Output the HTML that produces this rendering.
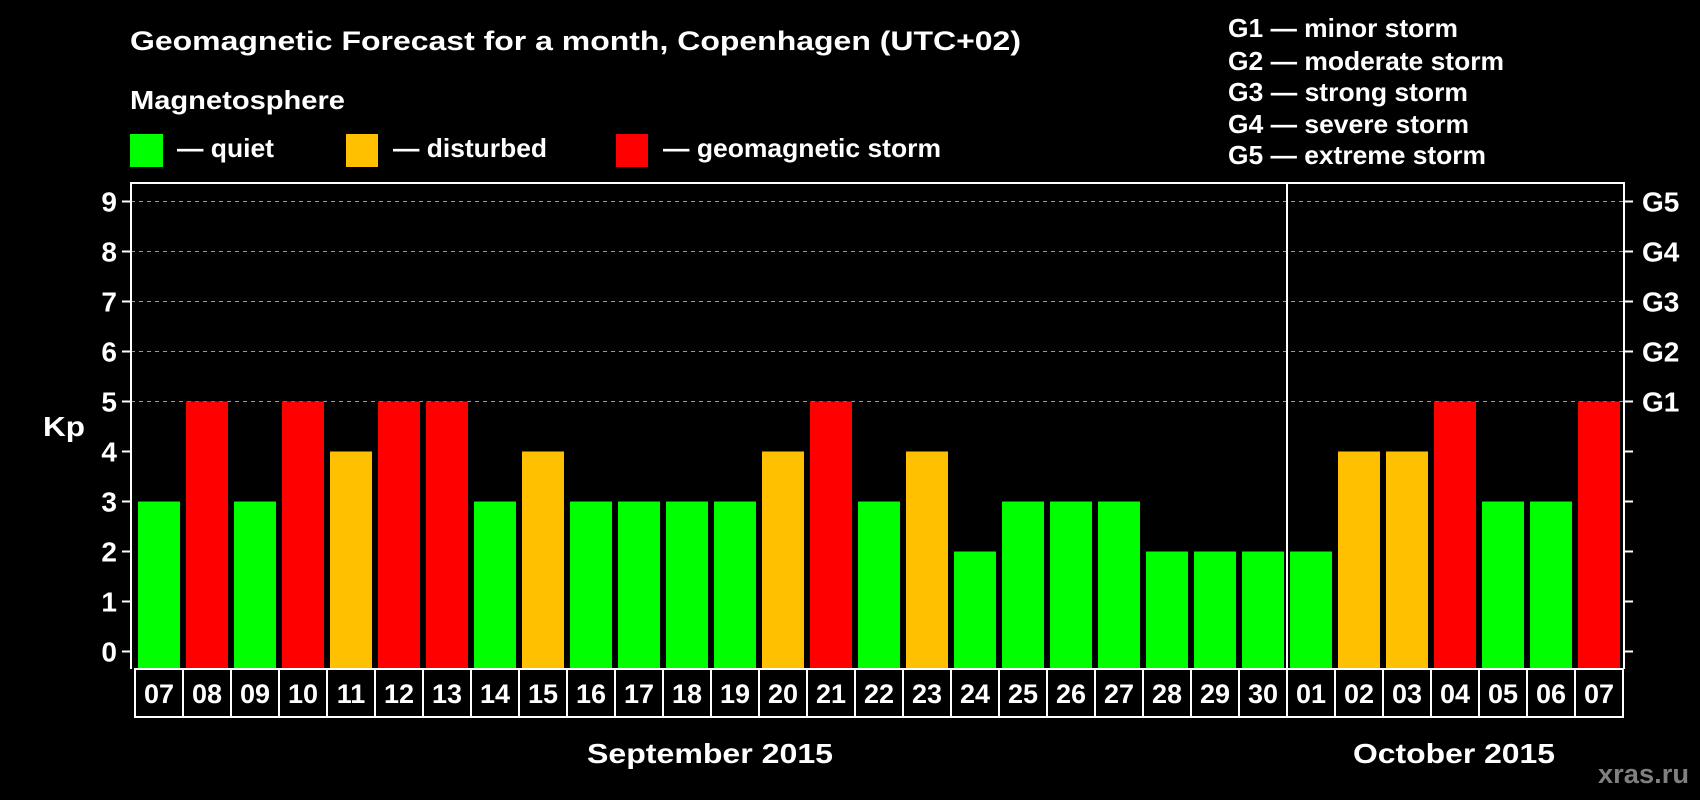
<!DOCTYPE html>
<html><head><meta charset="utf-8"><style>
html,body{margin:0;padding:0;background:#000;}
svg{display:block;font-family:"Liberation Sans",Arial,sans-serif;font-weight:bold;}
</style></head><body>
<svg id="chart" width="1700" height="800" viewBox="0 0 1700 800" xmlns="http://www.w3.org/2000/svg">
<rect x="0" y="0" width="1700" height="800" fill="#000"/>
<text x="130" y="50" fill="#fff" font-size="27" textLength="891" lengthAdjust="spacingAndGlyphs">Geomagnetic Forecast for a month, Copenhagen (UTC+02)</text>
<text x="130" y="109" fill="#fff" font-size="26" textLength="215" lengthAdjust="spacingAndGlyphs">Magnetosphere</text>
<g><rect x="130" y="134" width="33" height="33" fill="#00ff00"/><text x="177" y="157" fill="#fff" font-size="26" textLength="97" lengthAdjust="spacingAndGlyphs">— quiet</text></g>
<g><rect x="346" y="134" width="32" height="33" fill="#ffc000"/><text x="393" y="157" fill="#fff" font-size="26" textLength="154" lengthAdjust="spacingAndGlyphs">— disturbed</text></g>
<g><rect x="616" y="134" width="32" height="33" fill="#ff0000"/><text x="663" y="157" fill="#fff" font-size="26" textLength="278" lengthAdjust="spacingAndGlyphs">— geomagnetic storm</text></g>
<g fill="#fff" font-size="26">
<text x="1228" y="37" textLength="230" lengthAdjust="spacingAndGlyphs">G1 — minor storm</text>
<text x="1228" y="70" textLength="276" lengthAdjust="spacingAndGlyphs">G2 — moderate storm</text>
<text x="1228" y="101" textLength="240" lengthAdjust="spacingAndGlyphs">G3 — strong storm</text>
<text x="1228" y="133" textLength="241" lengthAdjust="spacingAndGlyphs">G4 — severe storm</text>
<text x="1228" y="164" textLength="258" lengthAdjust="spacingAndGlyphs">G5 — extreme storm</text>
</g>
<text x="43" y="436" fill="#fff" font-size="28" textLength="42" lengthAdjust="spacingAndGlyphs">Kp</text>
<g id="grid"></g><g id="bars"></g><g id="axes"></g><g id="labels"></g>
<text x="710" y="763" fill="#fff" font-size="28" text-anchor="middle" textLength="246" lengthAdjust="spacingAndGlyphs">September 2015</text>
<text x="1454" y="763" fill="#fff" font-size="28" text-anchor="middle" textLength="202" lengthAdjust="spacingAndGlyphs">October 2015</text>
<text x="1689" y="783" fill="#808080" font-size="27" text-anchor="end" textLength="91" lengthAdjust="spacingAndGlyphs">xras.ru</text>
</svg>
<script>
const days = ["07","08","09","10","11","12","13","14","15","16","17","18","19","20","21","22","23","24","25","26","27","28","29","30","01","02","03","04","05","06","07"];
const kpValues = [3,5,3,5,4,5,5,3,4,3,3,3,3,4,5,3,4,2,3,3,3,2,2,2,2,4,4,5,3,3,5];
const yTicks = [0,1,2,3,4,5,6,7,8,9];
const gLabels = ["G1","G2","G3","G4","G5"];
const NS="http://www.w3.org/2000/svg";
const plotLeft=131,plotRight=1624,plotTop=183,plotBottom=669,pitch=48,barW=42,firstBar=138;
function yScale(v){return 651.5-v*50;}
function xScale(i){return firstBar+i*pitch;}
function mk(tag,attrs,parent,text){const e=document.createElementNS(NS,tag);for(const k in attrs)e.setAttribute(k,attrs[k]);if(text!==undefined)e.textContent=text;parent.appendChild(e);return e;}
function color(v){return v>=5?"#ff0000":(v>=4?"#ffc000":"#00ff00");}
const gridG=document.getElementById("grid"),barsG=document.getElementById("bars"),axesG=document.getElementById("axes"),labelsG=document.getElementById("labels");
yTicks.forEach(t=>{
  if(t>=5){const g=mk("line",{x1:plotLeft,x2:plotRight,y1:yScale(t),y2:yScale(t),stroke:"#999","stroke-width":1,"stroke-dasharray":"4,4"},gridG);
  
  }
  const tl=mk("line",{x1:plotLeft-9,x2:plotLeft,y1:yScale(t),y2:yScale(t),stroke:"#fff","stroke-width":2},axesG);
  
  
  const tr=mk("line",{x1:plotRight,x2:plotRight+9,y1:yScale(t),y2:yScale(t),stroke:"#fff","stroke-width":2},axesG);
  
  
  const lt=mk("text",{x:plotLeft-14,y:yScale(t)+10,fill:"#fff","font-size":28,"text-anchor":"end"},axesG,String(t));
  
  
});
gLabels.forEach((g,i)=>{
  const t=mk("text",{x:plotRight+18,y:yScale(5+i)+10,fill:"#fff","font-size":28},axesG,g);
  
  
});
kpValues.forEach((v,i)=>{
  const r=mk("rect",{x:xScale(i),y:yScale(v),width:barW,height:plotBottom-yScale(v),fill:color(v)},barsG);
  
  
});
const frame=mk("path",{d:`M${plotLeft},${plotBottom} V${plotTop} H${plotRight} V${plotBottom}`,fill:"none",stroke:"#fff","stroke-width":2},axesG);


const divX=xScale(24)-3;
const dv=mk("line",{x1:divX,x2:divX,y1:plotTop,y2:plotBottom,stroke:"#fff","stroke-width":2},axesG);


days.forEach((d,i)=>{
  const cx=xScale(i)-3;
  const c=mk("rect",{x:cx,y:plotBottom,width:pitch,height:48,fill:"#000",stroke:"#fff","stroke-width":2},labelsG);
  
  
  const t=mk("text",{x:cx+pitch/2,y:plotBottom+34,fill:"#fff","font-size":27,"text-anchor":"middle"},labelsG,d);
  
  
});
</script>
</body></html>
